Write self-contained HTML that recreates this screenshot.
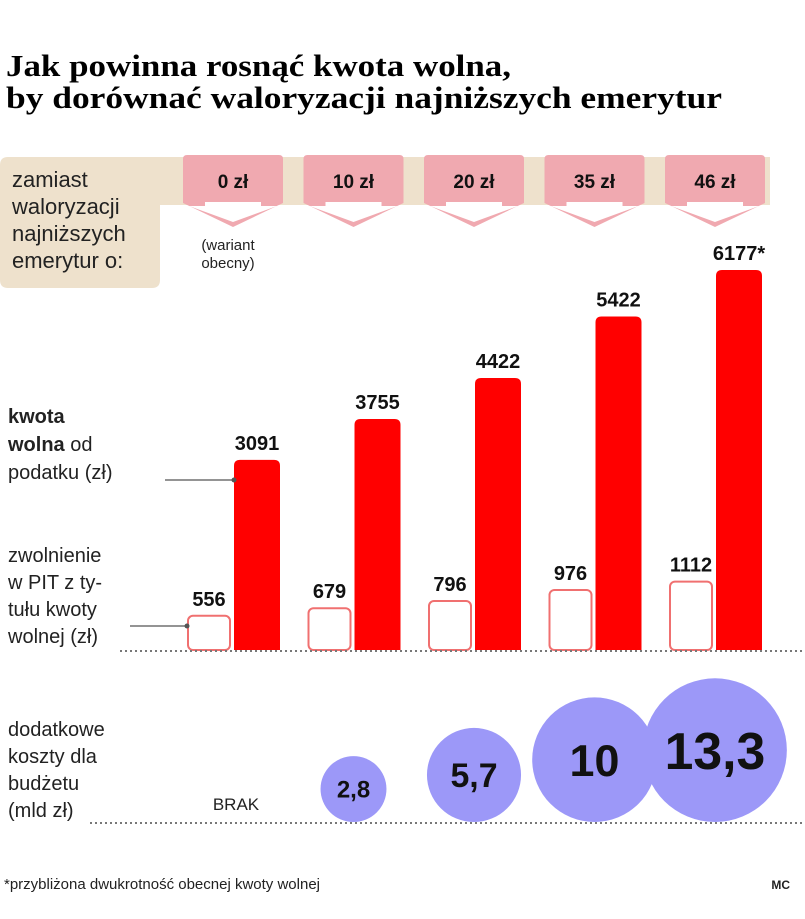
<!DOCTYPE html>
<html><head><meta charset="utf-8"><style>
html,body{margin:0;padding:0;background:#fff;}
svg{display:block;font-family:"Liberation Sans",sans-serif;}
</style></head><body>
<svg id="chart" width="805" height="919" viewBox="0 0 805 919">
<text x="6" y="76" font-family="Liberation Serif,serif" font-weight="bold" font-size="31" textLength="505" lengthAdjust="spacingAndGlyphs">Jak powinna rosnąć kwota wolna,</text>
<text x="6" y="108" font-family="Liberation Serif,serif" font-weight="bold" font-size="31" textLength="716" lengthAdjust="spacingAndGlyphs">by dorównać waloryzacji najniższych emerytur</text>
<path d="M8,157 H770 V205 H160 V280 Q160,288 152,288 H8 Q0,288 0,280 V165 Q0,157 8,157 Z" fill="#eee1cc"/>
<g font-size="22" fill="#222">
<text x="12" y="187">zamiast</text><text x="12" y="214">waloryzacji</text><text x="12" y="241">najniższych</text><text x="12" y="268">emerytur o:</text>
</g>
<text x="228" y="250" font-size="15" text-anchor="middle" fill="#222"><tspan x="228">(wariant</tspan><tspan x="228" dy="18">obecny)</tspan></text>
<g id="tabs"></g>
<g id="bars"></g>
<g id="bubbles"></g>
<g font-size="20" fill="#222">
<text x="8" y="423" font-weight="bold">kwota</text><text x="8" y="451"><tspan font-weight="bold">wolna</tspan> od</text><text x="8" y="479">podatku (zł)</text>
</g>
<line x1="165" y1="480" x2="234" y2="480" stroke="#555" stroke-width="1.2"/><circle cx="234" cy="480" r="2.5" fill="#555"/>
<g font-size="20" fill="#222">
<text x="8" y="562">zwolnienie</text><text x="8" y="589">w PIT z ty-</text><text x="8" y="616">tułu kwoty</text><text x="8" y="643">wolnej (zł)</text>
</g>
<line x1="130" y1="626" x2="187" y2="626" stroke="#555" stroke-width="1.2"/><circle cx="187" cy="626" r="2.5" fill="#555"/>
<line x1="120" y1="651" x2="805" y2="651" stroke="#777" stroke-width="2" stroke-dasharray="2,3"/>
<g font-size="20" fill="#222">
<text x="8" y="736">dodatkowe</text><text x="8" y="763">koszty dla</text><text x="8" y="790">budżetu</text><text x="8" y="817">(mld zł)</text>
</g>
<line x1="90" y1="823" x2="805" y2="823" stroke="#777" stroke-width="2" stroke-dasharray="2,3"/>
<text x="236" y="810" font-size="17" text-anchor="middle" fill="#222">BRAK</text>
<text x="4" y="889" font-size="15" fill="#222">*przybliżona dwukrotność obecnej kwoty wolnej</text>
<text x="790" y="889" font-size="12" font-weight="bold" text-anchor="end" fill="#222">MC</text>
</svg>
<script>
const categories = ["0 zł","10 zł","20 zł","35 zł","46 zł"];
const kwotaValues = [3091,3755,4422,5422,6177];
const kwotaLabels = ["3091","3755","4422","5422","6177*"];
const zwolnienieValues = [556,679,796,976,1112];
const kosztyValues = [0,2.8,5.7,10,13.3];
const kosztyLabels = ["","2,8","5,7","10","13,3"];

const NS="http://www.w3.org/2000/svg";
const baseY=650, yScale=380/6177;
const y = v => baseY - v*yScale;
const gx = i => 187 + i*120.5;
const rScale = 19.7;
const rad = v => Math.sqrt(v)*rScale;
function mk(tag, attrs, parent){const e=document.createElementNS(NS,tag);for(const k in attrs)e.setAttribute(k,attrs[k]);parent.appendChild(e);return e;}
const tabs=document.getElementById('tabs'), bars=document.getElementById('bars'), bub=document.getElementById('bubbles');
categories.forEach((c,i)=>{
  const x=gx(i)-4, cx=x+50;
  const p=mk('path',{d:`M${x+4},155 H${x+96} Q${x+100},155 ${x+100},159 V203 L${cx},227 L${x},203 V159 Q${x},155 ${x+4},155 Z`,fill:'#f0a9b0'},tabs);
  
  
  mk('path',{d:`M${x+6},206 H${x+22} V202 H${x+78} V206 H${x+94} L${cx},222 Z`,fill:'#fff'},tabs);
  const t=mk('text',{x:cx,y:188,'font-size':19,'font-weight':'bold','text-anchor':'middle',fill:'#111'},tabs);
  t.textContent=c;
  
  
  const wx=gx(i), wy=y(zwolnienieValues[i]);
  const w=mk('rect',{x:wx+1,y:wy,width:42,height:baseY-wy,rx:5,fill:'#fff',stroke:'#f07070','stroke-width':2},bars);
  
  
  const wl=mk('text',{x:wx+22,y:wy-10,'font-size':20,'font-weight':'bold','text-anchor':'middle',fill:'#111'},bars);
  wl.textContent=String(zwolnienieValues[i]);
  
  
  const rx=gx(i)+47, ry=y(kwotaValues[i]);
  const r=mk('path',{d:`M${rx},${baseY} V${ry+6} Q${rx},${ry} ${rx+6},${ry} H${rx+40} Q${rx+46},${ry} ${rx+46},${ry+6} V${baseY} Z`,fill:'#ff0000'},bars);
  
  
  const rl=mk('text',{x:rx+23,y:ry-10,'font-size':20,'font-weight':'bold','text-anchor':'middle',fill:'#111'},bars);
  rl.textContent=kwotaLabels[i];
  
  
  const v=kosztyValues[i];
  if(v>0){
    const R=rad(v), bx=gx(i)+46, by=822-R;
    const ci=mk('circle',{cx:bx,cy:by,r:R,fill:'#9c98f8'},bub);
    
    
    const fs=Math.max(24,R*0.72);
    const bt=mk('text',{x:bx,y:by+fs*0.36,'font-size':fs,'font-weight':'bold','text-anchor':'middle',fill:'#111'},bub);
    bt.textContent=kosztyLabels[i];
    
    
  }
});
</script>
</body></html>
